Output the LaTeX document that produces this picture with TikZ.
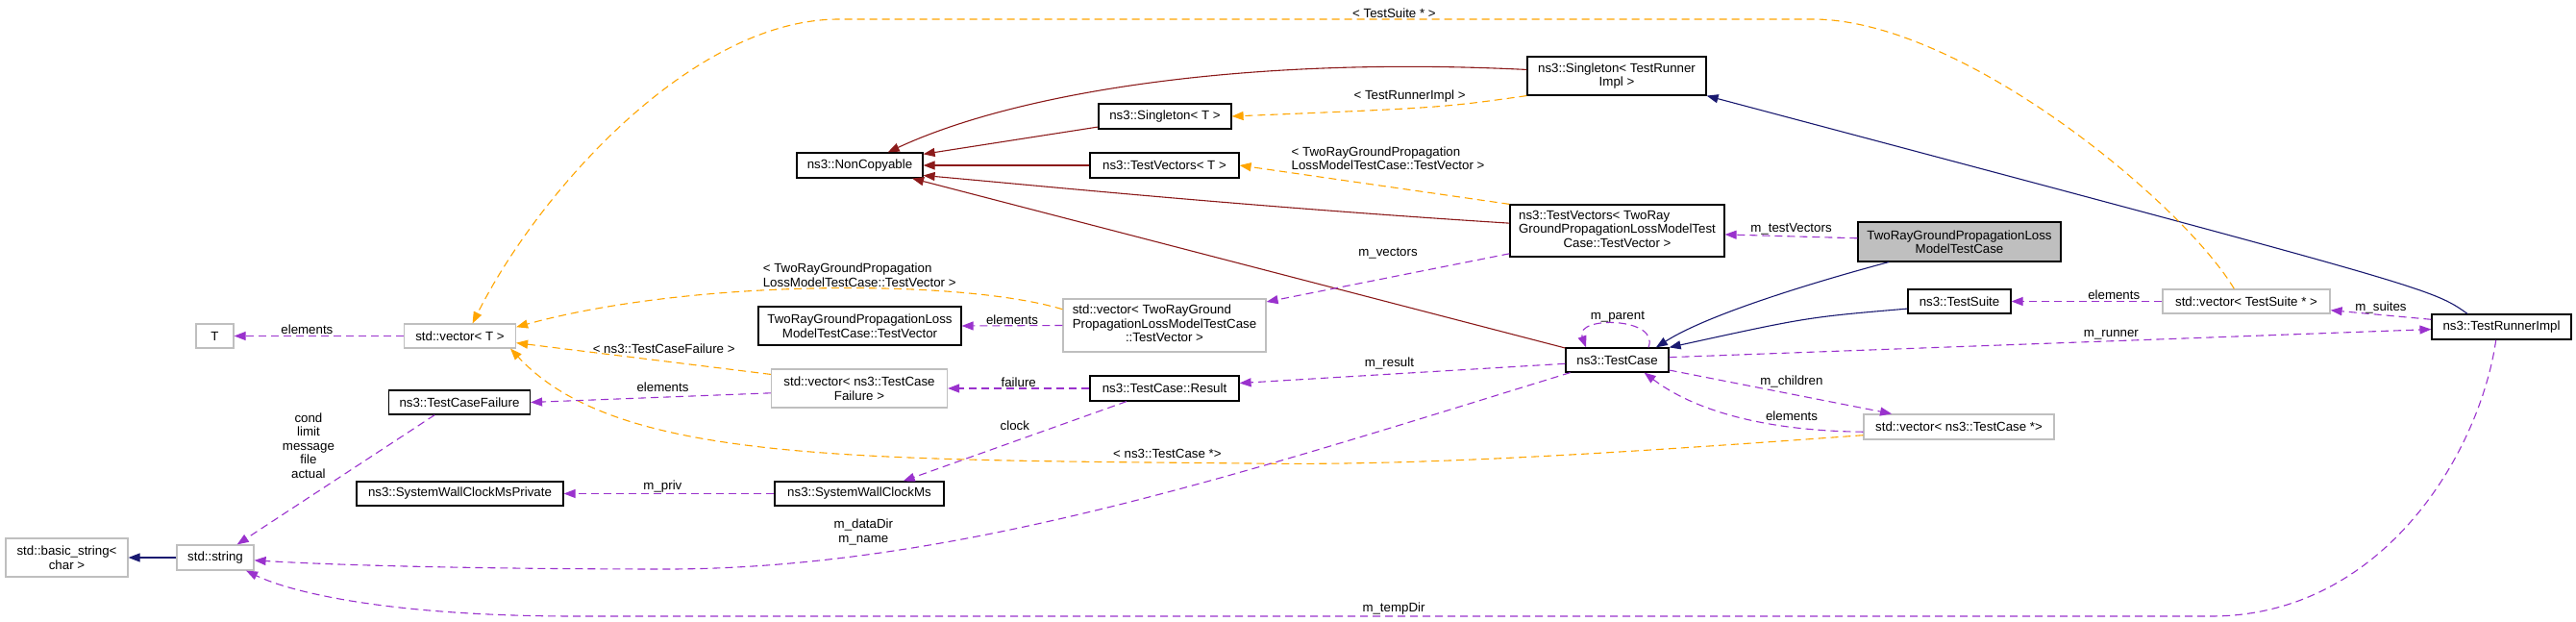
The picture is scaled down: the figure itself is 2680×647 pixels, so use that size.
\documentclass[tikz,border=0pt]{standalone}
\usepackage{fontspec}
\setsansfont{Liberation Sans}
\usetikzlibrary{arrows.meta,positioning}
\definecolor{inhblue}{HTML}{191970}
\definecolor{privred}{HTML}{8B1A1A}
\definecolor{usepurple}{HTML}{9A32CD}
\definecolor{tmplorange}{HTML}{FFA500}
\definecolor{extgray}{HTML}{BFBFBF}
\tikzset{
    every node/.append style={font=\sffamily\fontsize{13.3}{14.5}\selectfont}}
\newcommand{\tl}[1]{\begin{tabular}{@{}l@{}}#1\end{tabular}}
\newcommand{\lastc}[1]{\multicolumn{1}{@{}c@{}}{#1}}

\begin{document}
\begin{tikzpicture}[x=1pt, y=-1pt,
    cls/.style={draw=black, fill=white, line width=1.2pt, inner sep=1pt, align=center},
    ext/.style={cls, draw=extgray},
    sz/.style 2 args={minimum width=#1pt, minimum height=#2pt},
    tip/.style={-{Triangle[length=12pt,width=9pt]}, line width=1.1pt},
    inh/.style={tip, color=inhblue},
    priv/.style={tip, color=privred},
    use/.style={tip, color=usepurple, dash pattern=on 8pt off 5pt},
    tmpl/.style={tip, color=tmplorange, dash pattern=on 8pt off 5pt},
    lbl/.style={inner sep=1pt, text=black}]
    \useasboundingbox (0,0) rectangle (2680,647);

    \node[ext, sz={127}{40}] (bstr) at (69.5,580) {std::basic\_string<\\char >};
    \node[ext, sz={80}{26}] (str) at (224,580) {std::string};
    \node[ext, sz={39}{25}] (T) at (223.5,349.5) {T};
    \node[ext, sz={116}{25}] (vecT) at (478.5,349.5) {std::vector< T >};
    \node[cls, sz={147}{25}] (tcf) at (478,418.5) {ns3::TestCaseFailure};
    \node[cls, sz={215}{25}] (swcp) at (478.5,513.5) {ns3::SystemWallClockMsPrivate};
    \node[cls, sz={131}{26}] (nc) at (894.5,172) {ns3::NonCopyable};
    \node[cls, sz={211}{40}] (tv) at (894.5,339) {TwoRayGroundPropagationLoss\\ModelTestCase::TestVector};
    \node[ext, sz={183}{40}] (vecTcf) at (894,404) {std::vector< ns3::TestCase\\Failure >};
    \node[cls, sz={176}{25}] (swc) at (894,513.5) {ns3::SystemWallClockMs};
    \node[cls, sz={138}{26}] (sgT) at (1212,121) {ns3::Singleton< T >};
    \node[cls, sz={155}{26}] (tvsT) at (1211.5,172) {ns3::TestVectors< T >};
    \node[ext, sz={211}{55}] (vecTv) at (1211.5,338.5) {\tl{std::vector< TwoRayGround\\PropagationLossModelTestCase\\\lastc{::TestVector >}}};
    \node[cls, sz={155}{26}] (res) at (1211.5,404) {ns3::TestCase::Result};
    \node[cls, sz={186}{40}] (sgRun) at (1682,79) {ns3::Singleton< TestRunner\\Impl >};
    \node[cls, sz={223}{54}] (tvs) at (1682.5,240) {\tl{ns3::TestVectors< TwoRay\\GroundPropagationLossModelTest\\\lastc{Case::TestVector >}}};
    \node[cls, sz={107}{25}] (tc) at (1682.5,374.5) {ns3::TestCase};
    \node[cls, fill=extgray, sz={211}{41}] (main) at (2038.5,251.5) {TwoRayGroundPropagationLoss\\ModelTestCase};
    \node[cls, sz={107}{25}] (suite) at (2038.5,313.5) {ns3::TestSuite};
    \node[ext, sz={174}{25}] (vecSuite) at (2337,313.5) {std::vector< TestSuite * >};
    \node[ext, sz={198}{26}] (vecTc) at (2038,444) {std::vector< ns3::TestCase *>};
    \node[cls, sz={145}{26}] (runner) at (2602.5,340) {ns3::TestRunnerImpl};

    % private inheritance
    \draw[priv] (sgRun.176) .. controls (1300,58) and (1060,95) .. (nc.25);
    \draw[priv] (sgT.189) -- (nc.10);
    \draw[priv] (tvsT.west) -- (nc.east);
    \draw[priv] (tvs.176) .. controls (1300,215) and (1100,195) .. (nc.-9);
    \draw[priv] (tc.167) -- (nc.-14);

    % public inheritance
    \draw[inh] (runner.159) .. controls (2530,300) .. (sgRun.south east);
    \draw[inh] (main.196) .. controls (1900,290) and (1780,325) .. (tc.18);
    \draw[inh] (suite.188) .. controls (1880,330) .. (tc.north east);
    \draw[inh] (str.west) -- (bstr.east);

    % template instances
    \draw[tmpl] (sgRun.south west) .. controls (1500,112) .. (sgT.east)
        node[lbl, pos=0.57, above=5pt] {< TestRunnerImpl >};
    \draw[tmpl] (tvs.north west) -- (tvsT.east)
        node[lbl, pos=0.45, above=16pt, align=left] {< TwoRayGroundPropagation\\LossModelTestCase::TestVector >};
    \draw[tmpl] (vecTv.171) .. controls (1000,290) and (720,290) .. (vecT.9)
        node[lbl, pos=0.43, above, align=left] {< TwoRayGroundPropagation\\LossModelTestCase::TestVector >};
    \draw[tmpl] (vecTcf.171) -- (vecT.-7)
        node[lbl, pos=0.42, above=6pt] {< ns3::TestCaseFailure >};
    \draw[tmpl] (vecTc.185) .. controls (1700,470) and (1480,485) .. (1300,482)
        .. controls (880,478) and (640,480) .. (vecT.-14)
        node[lbl, pos=0.07, above=3pt] {< ns3::TestCase *>};
    \draw[tmpl] (vecSuite.134) .. controls (2270,210) and (2040,20) .. (1886,20) -- (873,20)
        node[lbl, pos=0.43, above] {< TestSuite * >}
        .. controls (720,20) and (560,200) .. (vecT.45);

    % usage
    \draw[use] (vecT.west) -- (T.east) node[lbl, pos=0.57, above] {elements};
    \draw[use] (tcf.-153) -- (str.31)
        node[lbl, midway, anchor=south east, align=center] {cond\\limit\\message\\file\\actual};
    \draw[use] (vecTcf.183) -- (tcf.east) node[lbl, pos=0.45, above=4pt] {elements};
    \draw[use] (swc.west) -- (swcp.east) node[lbl, pos=0.53, above] {m\_priv};
    \draw[use] (res.-161) -- (swc.16) node[lbl, midway, above=10pt] {clock};
    \draw[use] (res.west) -- (vecTcf.east) node[lbl, midway, above] {failure};
    \draw[use] (vecTv.west) -- (tv.east) node[lbl, midway, above] {elements};
    \draw[use] (tvs.192) -- (vecTv.13) node[lbl, midway, above=18pt] {m\_vectors};
    \draw[use] (tc.184) -- (res.4) node[lbl, pos=0.54, above=4pt] {m\_result};
    \draw[use] (tc.195) .. controls (1300,490) and (1000,590) .. (700,592)
        node[lbl, pos=0.78, above=9pt, align=center] {m\_dataDir\\m\_name}
        .. controls (500,592) and (350,588) .. (str.-4);
    \draw[use] (tc.22) .. controls (1728,330) and (1638,328) .. (tc.158)
        node[lbl, midway, above] {m\_parent};
    \draw[use] (main.178) -- (tvs.-2) node[lbl, midway, above] {m\_testVectors};
    \draw[use] (tc.3) -- (runner.182) node[lbl, pos=0.58, above] {m\_runner};
    \draw[use] (runner.174) -- (vecSuite.-6) node[lbl, midway, above] {m\_suites};
    \draw[use] (vecSuite.west) -- (suite.east) node[lbl, pos=0.32, above] {elements};
    \draw[use] (tc.-11) -- (vecTc.169) node[lbl, pos=0.55, above=5pt] {m\_children};
    \draw[use] (vecTc.183) .. controls (1830,448) and (1760,425) .. (tc.-25)
        node[lbl, pos=0.25, above=5pt] {elements};
    \draw[use] (runner.-113) .. controls (2580,470) and (2480,641) .. (2300,641) -- (600,641)
        node[lbl, midway, above] {m\_tempDir}
        .. controls (400,641) and (300,615) .. (str.-23);
\end{tikzpicture}
\end{document}
